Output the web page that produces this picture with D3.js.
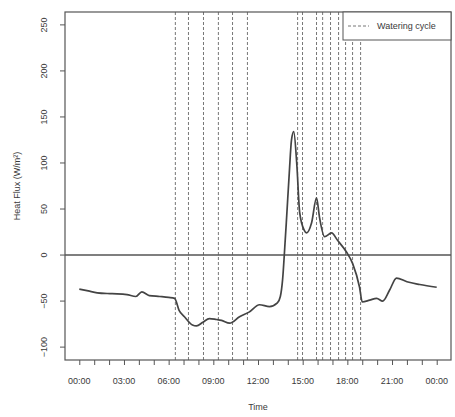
<!DOCTYPE html>
<html lang="en">
<head>
	<title>Heat Flux</title>
	<script src="https://d3js.org/d3.v7.min.js" charset="utf-8"></script>
	<style>
	body { margin: 0; background: #fff; }
	text {
		font-family: "Liberation Sans", Arial, sans-serif;
		fill: #3a3a3a;
	}
	</style>
</head>
<body>
	<script>
	// Hours since midnight and heat flux (W/m2)
	var hours = [0, 0.6, 1.2, 2.2, 3.2, 3.8, 4.2, 4.7, 5.4, 6.0, 6.4, 6.7, 7.06, 7.6, 7.87, 8.3, 8.74, 9.2, 9.55, 10.1, 10.76, 11.4, 12.1, 12.77, 13.3, 13.5, 13.65, 13.8, 13.9, 14.1, 14.25, 14.4, 14.6, 14.8, 15.1, 15.26, 15.6, 15.93, 16.13, 16.47, 16.94, 17.34, 17.95, 18.35, 18.82, 19.0, 19.5, 19.97, 20.37, 20.84, 21.3, 22.0, 22.86, 24.0];
	var flux = [-37, -39, -41, -42, -43, -45, -40, -44, -45, -46, -47, -60, -67, -76, -77, -73, -69, -70, -71, -74, -67, -62, -54, -56, -52, -45, -27, 9, 35, 89, 125, 134, 100, 46, 27, 24, 35, 62, 41, 20, 24, 16, 3, -9, -35, -51, -49, -47, -50, -38, -25, -29, -32, -35];

	// Watering cycle times (hours)
	var watering = [6.45, 7.33, 8.34, 9.34, 10.29, 11.29, 14.66, 14.99, 15.93, 16.34, 16.87, 17.41, 17.88, 18.35, 18.89];

	var yTicks = [-100, -50, 0, 50, 100, 150, 200, 250];
	var xLabelHours = [0, 3, 6, 9, 12, 15, 18, 21, 24];
	var xLabels = ["00:00", "03:00", "06:00", "09:00", "12:00", "15:00", "18:00", "21:00", "00:00"];

	var w = 455, h = 417;
	var mLeft = 65, mRight = 451, mTop = 12, mBottom = 360;

	var x = d3.scaleLinear().domain([-0.96, 24.96]).range([mLeft, mRight]);
	var y = d3.scaleLinear().domain([-114, 264]).range([mBottom, mTop]);

	var svg = d3.select("body").append("svg")
		.attr("width", w)
		.attr("height", h);

	// watering lines
	svg.selectAll("line.water")
		.data(watering)
		.enter()
		.append("line")
		.attr("class", "water")
		.attr("x1", function(d){ return x(d); })
		.attr("x2", function(d){ return x(d); })
		.attr("y1", mTop)
		.attr("y2", mBottom)
		.attr("stroke", "#777")
		.attr("stroke-width", 1)
		.attr("stroke-dasharray", "3,2");

	// zero line
	svg.append("line")
		.attr("x1", mLeft).attr("x2", mRight)
		.attr("y1", y(0)).attr("y2", y(0))
		.attr("stroke", "#555")
		.attr("stroke-width", 1.5);

	// flux curve
	var line = d3.line()
		.x(function(d, i){ return x(hours[i]); })
		.y(function(d){ return y(d); })
		.curve(d3.curveMonotoneX);

	svg.append("path")
		.datum(flux)
		.attr("d", line)
		.attr("fill", "none")
		.attr("stroke", "#444")
		.attr("stroke-width", 1.7);

	// y axis
	var yAxis = svg.append("g")
		.attr("transform", "translate(" + mLeft + ",0)")
		.call(d3.axisLeft(y).tickValues(yTicks).tickSize(5).tickFormat(d3.format("d")));
	yAxis.select(".domain").remove();
	yAxis.selectAll("line").attr("stroke", "#555");
	yAxis.selectAll(".tick").attr("transform", null);
	yAxis.selectAll(".tick line")
		.attr("y1", function(d){ return y(d); })
		.attr("y2", function(d){ return y(d); });
	yAxis.selectAll(".tick text")
		.attr("font-size", 9)
		.attr("text-anchor", "middle")
		.attr("transform", function(d){ return "translate(-21," + y(d) + ") rotate(-90)"; })
		.attr("x", 0).attr("y", 0).attr("dy", "0.35em");

	// x axis, ticks each hour
	var xAxis = svg.append("g")
		.attr("transform", "translate(0," + mBottom + ")")
		.call(d3.axisBottom(x).tickValues(d3.range(0, 25)).tickSize(5).tickFormat(""));
	xAxis.select(".domain").remove();
	xAxis.selectAll("line").attr("stroke", "#555");

	svg.selectAll("text.xl")
		.data(xLabelHours)
		.enter()
		.append("text")
		.attr("class", "xl")
		.attr("x", function(d){ return x(d); })
		.attr("y", 384)
		.attr("text-anchor", "middle")
		.attr("font-size", 9)
		.text(function(d, i){ return xLabels[i]; });

	// box
	svg.append("rect")
		.attr("x", mLeft).attr("y", mTop)
		.attr("width", mRight - mLeft).attr("height", mBottom - mTop)
		.attr("fill", "none")
		.attr("stroke", "#555")
		.attr("stroke-width", 1.2);

	// axis titles
	svg.append("text")
		.attr("text-anchor", "middle")
		.attr("font-size", 9)
		.attr("x", (mLeft + mRight) / 2)
		.attr("y", 410)
		.text("Time");

	svg.append("text")
		.attr("text-anchor", "middle")
		.attr("font-size", 9)
		.attr("transform", "translate(20," + (mTop + mBottom) / 2 + ") rotate(-90)")
		.text("Heat Flux (W/m²)");

	// legend
	var lg = svg.append("g");
	lg.append("rect")
		.attr("x", 343).attr("y", mTop)
		.attr("width", mRight - 343).attr("height", 28)
		.attr("fill", "#fff")
		.attr("stroke", "#555");
	lg.append("line")
		.attr("x1", 348).attr("x2", 369)
		.attr("y1", 26).attr("y2", 26)
		.attr("stroke", "#777")
		.attr("stroke-dasharray", "3,2");
	lg.append("text")
		.attr("x", 377).attr("y", 29)
		.attr("font-size", 9)
		.text("Watering cycle");
	</script>
</body>
</html>
